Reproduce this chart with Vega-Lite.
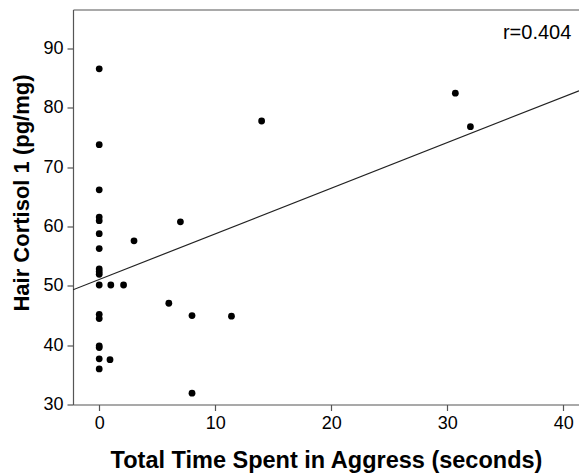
{
  "$schema": "https://vega.github.io/schema/vega-lite/v6.json",
  "width": 506,
  "height": 395,
  "autosize": "none",
  "padding": {"left": 73, "top": 9.5, "right": 0, "bottom": 69.5},
  "background": "white",
  "config": {
    "view": {"stroke": null},
    "font": "Liberation Sans",
    "axis": {
      "domainColor": "#555555",
      "domainWidth": 1.2,
      "tickColor": "#555555",
      "tickWidth": 1.2,
      "tickSize": 6,
      "grid": false,
      "labelColor": "#000000",
      "labelFont": "Liberation Sans",
      "labelFontSize": 18,
      "titleFont": "Liberation Sans",
      "titleFontWeight": "bold",
      "titleColor": "#000000",
      "titleFontSize": 23.5
    }
  },
  "data": {
    "values": [
      {"time": 0, "cortisol": 86.6},
      {"time": 0, "cortisol": 73.8},
      {"time": 0, "cortisol": 66.2},
      {"time": 0, "cortisol": 61.6},
      {"time": 0, "cortisol": 61.0},
      {"time": 0, "cortisol": 58.8},
      {"time": 0, "cortisol": 56.3},
      {"time": 0, "cortisol": 52.85},
      {"time": 0, "cortisol": 52.4},
      {"time": 0, "cortisol": 51.96},
      {"time": 0, "cortisol": 50.15},
      {"time": 0, "cortisol": 45.2},
      {"time": 0, "cortisol": 44.5},
      {"time": 0, "cortisol": 39.9},
      {"time": 0, "cortisol": 39.6},
      {"time": 0, "cortisol": 37.7},
      {"time": 0, "cortisol": 36.0},
      {"time": 1.0, "cortisol": 50.15},
      {"time": 2.1, "cortisol": 50.15},
      {"time": 3.0, "cortisol": 57.6},
      {"time": 0.93, "cortisol": 37.55},
      {"time": 7.0, "cortisol": 60.8},
      {"time": 6.0, "cortisol": 47.07},
      {"time": 8.0, "cortisol": 45.0},
      {"time": 11.4, "cortisol": 44.9},
      {"time": 8.0, "cortisol": 31.9},
      {"time": 14.0, "cortisol": 77.8},
      {"time": 30.7, "cortisol": 82.5},
      {"time": 32.0, "cortisol": 76.85}
    ]
  },
  "resolve": {"axis": {"x": "independent"}},
  "layer": [
    {
      "mark": {"type": "point", "filled": true, "color": "#000000", "opacity": 1, "size": 46},
      "encoding": {
        "x": {
          "field": "time", "type": "quantitative",
          "scale": {"domain": [-2.26, 41.36], "nice": false, "zero": false},
          "axis": {"orient": "bottom", "values": [0, 10, 20, 30, 40], "title": "Total Time Spent in Aggress (seconds)", "labelPadding": 4, "titlePadding": 16}
        },
        "y": {
          "field": "cortisol", "type": "quantitative",
          "scale": {"domain": [30, 96.6], "nice": false, "zero": false},
          "axis": {"values": [30, 40, 50, 60, 70, 80, 90], "title": "Hair Cortisol 1 (pg/mg)", "labelPadding": 4, "titlePadding": 9, "titleFontSize": 22, "titleY": 183}
        }
      }
    },
    {
      "transform": [{"regression": "cortisol", "on": "time", "extent": [-2.26, 41.36]}],
      "mark": {"type": "line", "color": "#222222", "strokeWidth": 1.2, "clip": true},
      "encoding": {
        "x": {
          "field": "time", "type": "quantitative",
          "axis": {"orient": "top", "labels": false, "ticks": false, "title": null, "domain": true}
        },
        "y": {
          "field": "cortisol", "type": "quantitative",
          "axis": {"values": [30, 40, 50, 60, 70, 80, 90], "title": "Hair Cortisol 1 (pg/mg)", "labelPadding": 4, "titlePadding": 9, "titleFontSize": 22, "titleY": 183}
        }
      }
    },
    {
      "data": {"values": [{"label": "r=0.404"}]},
      "mark": {"type": "text", "align": "right", "baseline": "middle", "font": "Liberation Sans", "fontSize": 20, "color": "#000000"},
      "encoding": {
        "text": {"field": "label"},
        "x": {"datum": 40.7, "type": "quantitative", "axis": null},
        "y": {
          "datum": 92.6, "type": "quantitative",
          "axis": {"values": [30, 40, 50, 60, 70, 80, 90], "title": "Hair Cortisol 1 (pg/mg)", "labelPadding": 4, "titlePadding": 9, "titleFontSize": 22, "titleY": 183}
        }
      }
    }
  ]
}
